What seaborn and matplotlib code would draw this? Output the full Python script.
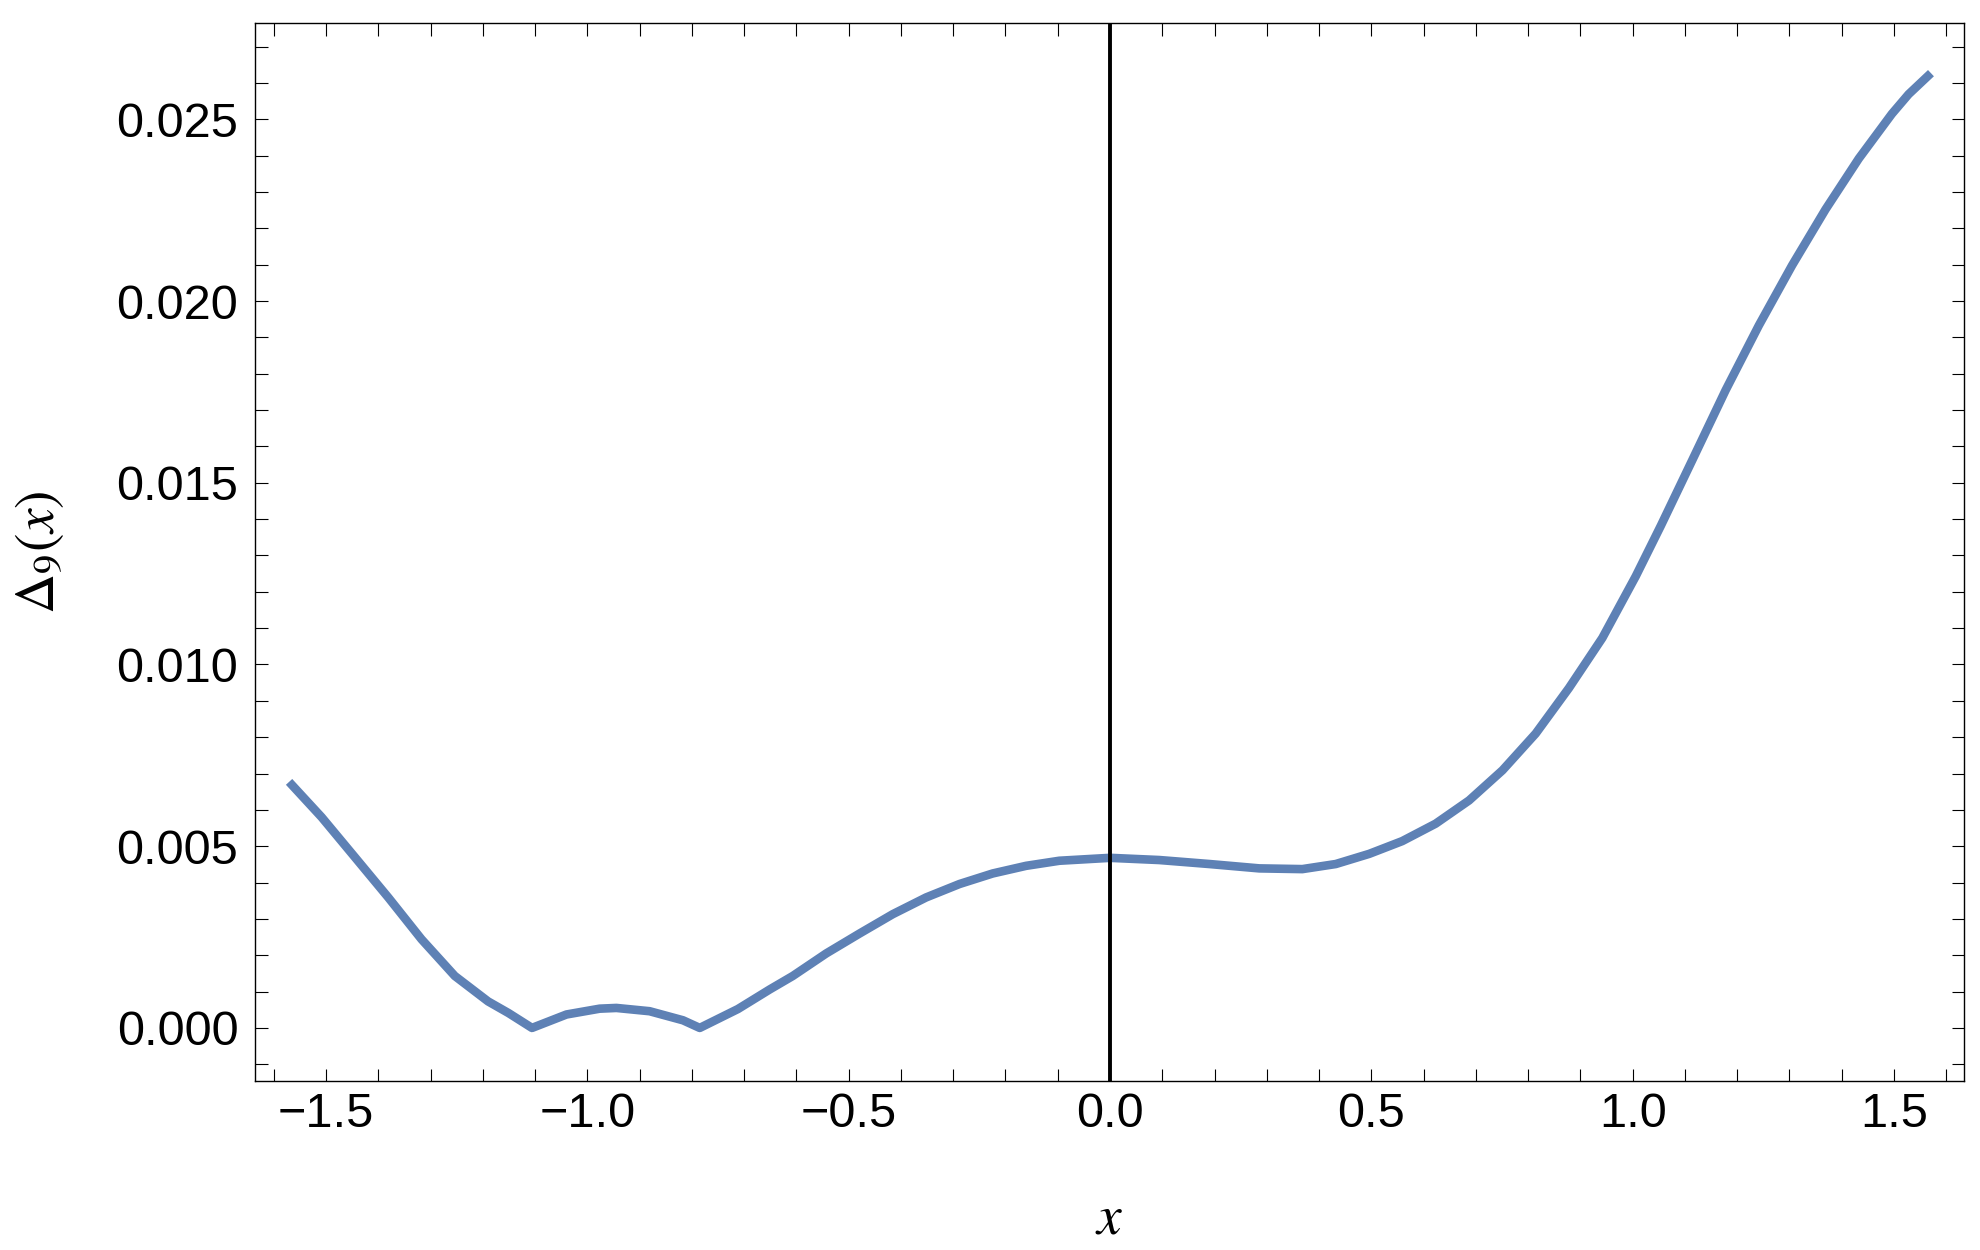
import matplotlib
matplotlib.use("Agg")
import matplotlib.pyplot as plt
from matplotlib.ticker import MultipleLocator
import numpy as np
import pandas as pd
import seaborn as sns

# ---- data ----
x_vals = [-1.5708, -1.5086, -1.445, -1.381, -1.3174, -1.2537, -1.190, -1.151,
          -1.106, -1.040, -0.9765, -0.9445, -0.881, -0.817, -0.785,
          -0.712, -0.651, -0.607, -0.543, -0.479, -0.4157, -0.352, -0.288,
          -0.2245, -0.1606, -0.097, 0.0, 0.094, 0.190, 0.2855, 0.368, 0.432,
          0.496, 0.559, 0.623, 0.687, 0.751, 0.8145, 0.878, 0.942, 1.006,
          1.054, 1.114, 1.178, 1.2415, 1.305, 1.369, 1.4327, 1.496, 1.528,
          1.5708]
delta_vals = [0.00677, 0.00580, 0.00470, 0.00359, 0.00244, 0.00143, 0.00073,
              0.00041, 0.0, 0.00037, 0.00053, 0.00055, 0.00046, 0.00021, 0.0,
              0.00052, 0.00106, 0.00143, 0.00205, 0.00260, 0.00313, 0.00359,
              0.00396, 0.00425, 0.00446, 0.00460, 0.00468, 0.00462, 0.00451,
              0.00439, 0.00437, 0.00451, 0.00479, 0.00514, 0.00562, 0.00626,
              0.00709, 0.00810, 0.00935, 0.01073, 0.01243, 0.01382, 0.01562,
              0.01755, 0.01933, 0.02098, 0.02252, 0.02392, 0.02515, 0.02569,
              0.02627]

x_ticks = [-1.5, -1.0, -0.5, 0.0, 0.5, 1.0, 1.5]
x_tick_labels = ["\u22121.5", "\u22121.0", "\u22120.5", "0.0", "0.5", "1.0", "1.5"]
y_ticks = [0.000, 0.005, 0.010, 0.015, 0.020, 0.025]
y_tick_labels = ["0.000", "0.005", "0.010", "0.015", "0.020", "0.025"]

df = pd.DataFrame({"x": x_vals, "delta": delta_vals})

# ---- style ----
sns.set_theme(style="ticks")
plt.rcParams["font.family"] = ["Liberation Sans", "DejaVu Sans"]
plt.rcParams["mathtext.fontset"] = "stix"
for k in ["text.color", "axes.labelcolor", "xtick.color", "ytick.color", "axes.edgecolor"]:
    plt.rcParams[k] = "black"

W, H = 1980, 1250
fig = plt.figure(figsize=(W / 100, H / 100), dpi=100)
left, right, top, bottom = 255, 1964, 23, 1081
ax = fig.add_axes([left / W, 1 - bottom / H, (right - left) / W, (bottom - top) / H])

sns.lineplot(data=df, x="x", y="delta", ax=ax, color="#5E81B5", lw=6.2,
             sort=False, estimator=None, solid_capstyle="butt")
ax.axvline(0, color="black", lw=2.8, zorder=5)

ax.set_xlim(-1.636, 1.634)
ax.set_ylim(-0.00146, 0.02765)

ax.set_xticks(x_ticks)
ax.set_xticklabels(x_tick_labels)
ax.set_yticks(y_ticks)
ax.set_yticklabels(y_tick_labels)
ax.xaxis.set_minor_locator(MultipleLocator(0.1))
ax.yaxis.set_minor_locator(MultipleLocator(0.001))

ax.tick_params(which="both", direction="in", length=9, width=0.8,
               top=True, right=True, labelsize=35)
ax.tick_params(axis="x", which="both", pad=8)
ax.tick_params(axis="y", which="both", pad=12)
for s in ax.spines.values():
    s.set_linewidth(1.0)
    s.set_color("black")

ax.set_xlabel(r"$x$", fontsize=40, va="center")
ax.xaxis.set_label_coords(0.5, (bottom - 1219) / (bottom - top))
ax.set_ylabel(r"$\Delta_9(x)$", fontsize=40, va="center")
ax.yaxis.set_label_coords((40 - left) / (right - left), 0.5)

fig.savefig("out.png", dpi=100)
